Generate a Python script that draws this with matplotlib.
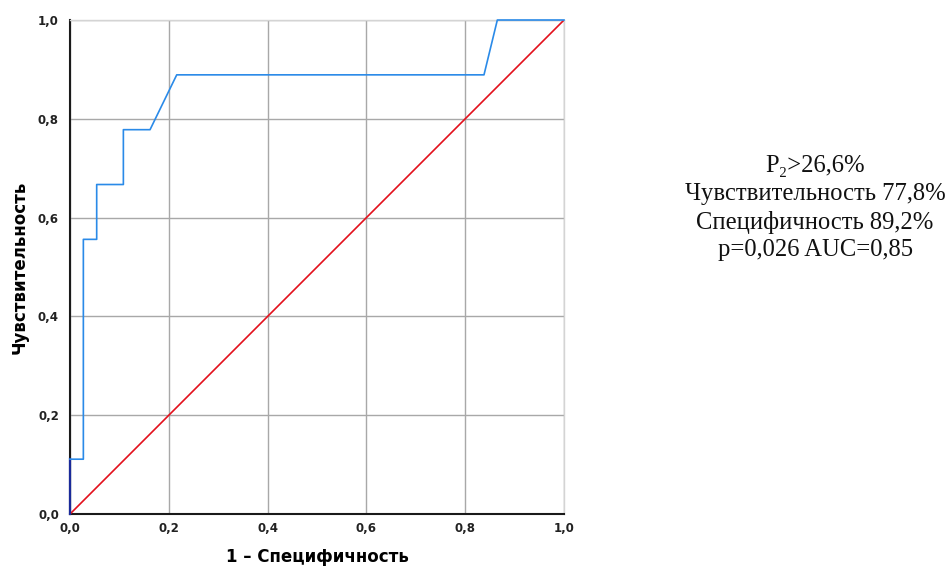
import matplotlib
matplotlib.use("Agg")
import matplotlib.pyplot as plt

# ROC curve coordinates (1 - specificity, sensitivity)
fpr = [0.0, 0.0, 0.027, 0.027, 0.054, 0.054, 0.108, 0.108, 0.162, 0.216, 0.838, 0.865, 1.0]
tpr = [0.0, 0.111, 0.111, 0.556, 0.556, 0.667, 0.667, 0.778, 0.778, 0.889, 0.889, 1.0, 1.0]

# Reference (chance) line
ref_x = [0.0, 1.0]
ref_y = [0.0, 1.0]

ticks = [0.0, 0.2, 0.4, 0.6, 0.8, 1.0]
tick_labels = ["0,0", "0,2", "0,4", "0,6", "0,8", "1,0"]

summary_lines = [
    "P₂>26,6%",
    "Чувствительность 77,8%",
    "Специфичность 89,2%",
    "p=0,026 AUC=0,85",
]

fig = plt.figure(figsize=(9.5, 5.7), dpi=100)
ax = fig.add_axes([0.0737, 0.0982, 0.52, 0.8667])

ax.set_xlim(0, 1)
ax.set_ylim(0, 1)
ax.set_xticks(ticks)
ax.set_yticks(ticks)
ax.set_xticklabels(tick_labels, fontsize=8.5, fontweight="bold", color="#222222")
ax.set_yticklabels(tick_labels, fontsize=8.5, fontweight="bold", color="#222222")
ax.tick_params(axis="x", length=0, pad=6)
ax.tick_params(axis="y", length=0, pad=8)

ax.grid(True, color="#a8a8a8", linewidth=1.0)
ax.set_axisbelow(True)

for side in ("left", "bottom"):
    ax.spines[side].set_color("#1a1a1a")
    ax.spines[side].set_linewidth(1.5)
for side in ("top", "right"):
    ax.spines[side].set_color("#d4d4d4")
    ax.spines[side].set_linewidth(1.0)

ax.plot(ref_x, ref_y, color="#e3101c", linewidth=1.2, zorder=3)
ax.plot(fpr[:2], tpr[:2], color="#1a2a9a", linewidth=1.6, zorder=4, clip_on=False)
ax.plot(fpr[1:], tpr[1:], color="#2a8ae8", linewidth=1.2, zorder=4, clip_on=False)

ax.set_xlabel("1 – Специфичность", fontsize=12, fontweight="bold", labelpad=9)
ax.set_ylabel("Чувствительность", fontsize=12, fontweight="bold", labelpad=7)

fig.text(0.858, 0.635, "\n".join(summary_lines), ha="center", va="center",
         fontsize=17.7, family=["Liberation Serif", "DejaVu Serif"],
         linespacing=1.33, color="#111111")

fig.savefig("out.png", dpi=100)
